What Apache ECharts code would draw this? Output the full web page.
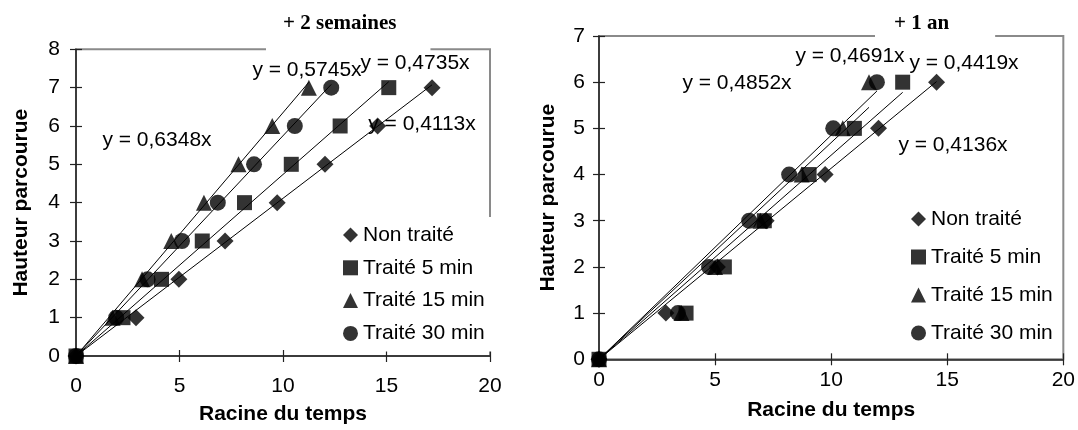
<!DOCTYPE html>
<html><head><meta charset="utf-8">
<script src="https://cdn.jsdelivr.net/npm/echarts@6/dist/echarts.min.js"></script>
<style>html,body{margin:0;padding:0;background:#fff}#c{width:1078px;height:430px}</style>
</head><body><div id="c"></div>
<script>
// ---- data ----
const seriesNames = ['Non traité', 'Traité 5 min', 'Traité 15 min', 'Traité 30 min'];
const panelTitles = ['+ 2 semaines', '+ 1 an'];
const xAxisName = 'Racine du temps';
const yAxisName = 'Hauteur parcourue';
const xTicks = [0, 5, 10, 15, 20];
const yTicks2sem = [0, 1, 2, 3, 4, 5, 6, 7, 8];
const yTicks1an = [0, 1, 2, 3, 4, 5, 6, 7];

// + 2 semaines : hauteur (y) vs racine du temps (x)
const heights2sem = [0, 1, 2, 3, 4, 5, 6, 7];
const x2semNonTraite = [0, 2.9, 4.97, 7.2, 9.72, 12.03, 14.57, 17.2];
const x2sem5min = [0, 2.27, 4.13, 6.1, 8.14, 10.4, 12.76, 15.11];
const x2sem15min = [0, 1.77, 3.19, 4.6, 6.18, 7.85, 9.48, 11.25];
const x2sem30min = [0, 1.94, 3.46, 5.12, 6.85, 8.6, 10.57, 12.33];
const slopes2sem = [0.4113, 0.4735, 0.6348, 0.5745];

// + 1 an
const heights1an = [0, 1, 2, 3, 4, 5, 6];
const x1anNonTraite = [0, 2.88, 5.1, 7.2, 9.74, 12.04, 14.54];
const x1an5min = [0, 3.75, 5.4, 7.12, 9.05, 11.0, 13.08];
const x1an15min = [0, 3.55, 5.0, 6.95, 8.73, 10.5, 11.63];
const x1an30min = [0, 3.4, 4.74, 6.47, 8.19, 10.09, 11.97];
const slopes1an = [0.4136, 0.4419, 0.4691, 0.4852];

// ---- styling / layout ----
const FONT = '"Liberation Sans", Arial, sans-serif';
const SERIF = '"Liberation Serif", "Times New Roman", serif';
const symbols = ['diamond', 'rect', 'triangle', 'circle'];
const symbolSizes = [17, 15, 16, 16];
const eqPos2sem = [[422, 124], [415, 63], [157, 140], [307, 70]];
const eqPos1an = [[953, 145], [964, 63], [850, 56], [737, 83]];

const xs2sem = [x2semNonTraite, x2sem5min, x2sem15min, x2sem30min];
const xs1an = [x1anNonTraite, x1an5min, x1an15min, x1an30min];

function pairs(xs, ys) { return xs.map((x, i) => [x, ys[i]]); }
function trend(xs, k) { const m = Math.max(...xs); return [[0, 0], [m, k * m]]; }
function eqText(k) { return 'y = ' + k.toFixed(4).replace('.', ',') + 'x'; }

const series = [];
[[xs2sem, heights2sem, slopes2sem, 0], [xs1an, heights1an, slopes1an, 1]].forEach(([xs, ys, ks, g]) => {
  xs.forEach((xv, i) => {
    series.push({
      type: 'line', xAxisIndex: g, yAxisIndex: g, data: trend(xv, ks[i]),
      symbol: 'none', silent: true, z: 2,
      lineStyle: { color: '#000', width: 1 }
    });
  });
  xs.forEach((xv, i) => {
    series.push({
      name: seriesNames[i], type: 'scatter', xAxisIndex: g, yAxisIndex: g,
      data: pairs(xv, ys), symbol: symbols[i], symbolSize: symbolSizes[i],
      itemStyle: { color: '#000' }, z: i === 1 ? 4 : 3
    });
  });
});

function xAx(grid, inside, labelMargin, nameGap) {
  return {
    type: 'value', gridIndex: grid, position: 'bottom', min: 0, max: 20, interval: 5,
    name: inside ? '' : xAxisName, nameLocation: 'middle', nameGap: nameGap,
    nameTextStyle: { fontFamily: FONT, fontSize: 21, fontWeight: 'bold', color: '#000' },
    axisLine: { show: !inside, onZero: false, lineStyle: { color: '#222', width: 1.5 } },
    axisTick: { show: true, inside: inside, length: 6, lineStyle: { color: '#222', width: 1.2 } },
    axisLabel: { show: !inside, margin: labelMargin, fontFamily: FONT, fontSize: 21, color: '#000' },
    splitLine: { show: false }
  };
}
function yAx(grid, inside, max, labelMargin, nameGap) {
  return {
    type: 'value', gridIndex: grid, position: 'left', min: 0, max: max, interval: 1,
    name: inside ? '' : yAxisName, nameLocation: 'middle', nameGap: nameGap, nameRotate: 90,
    nameTextStyle: { fontFamily: FONT, fontSize: 21, fontWeight: 'bold', color: '#000' },
    axisLine: { show: !inside, onZero: false, lineStyle: { color: '#222', width: 1.5 } },
    axisTick: { show: true, inside: inside, length: 6, lineStyle: { color: '#222', width: 1.2 } },
    axisLabel: { show: !inside, margin: labelMargin, fontFamily: FONT, fontSize: 21, color: '#000' },
    splitLine: { show: false }
  };
}

const legendData = seriesNames.map((n, i) => ({ name: n, icon: symbols[i] }));
const graphic = [];
slopes2sem.forEach((k, i) => graphic.push({ type: 'text', x: eqPos2sem[i][0], y: eqPos2sem[i][1], z: 10,
  style: { text: eqText(k), font: '21px ' + FONT, fill: '#000', align: 'center', verticalAlign: 'middle' } }));
slopes1an.forEach((k, i) => graphic.push({ type: 'text', x: eqPos1an[i][0], y: eqPos1an[i][1], z: 10,
  style: { text: eqText(k), font: '21px ' + FONT, fill: '#000', align: 'center', verticalAlign: 'middle' } }));

const option = {
  animation: false,
  backgroundColor: '#fff',
  title: [
    { text: panelTitles[0], left: 266, top: 0, padding: [11, 34, 16, 17], backgroundColor: '#fff',
      textStyle: { fontFamily: SERIF, fontWeight: 'bold', fontSize: 21, lineHeight: 25, color: '#000' } },
    { text: panelTitles[1], left: 875, top: 0, padding: [11, 46, 5, 19], backgroundColor: '#fff',
      textStyle: { fontFamily: SERIF, fontWeight: 'bold', fontSize: 21, lineHeight: 25, color: '#000' } }
  ],
  grid: [
    { left: 76, top: 49.3, width: 414, height: 312.4, show: true, borderColor: '#8a8a8a', borderWidth: 2, backgroundColor: 'transparent' },
    { left: 599, top: 36, width: 468, height: 323.3, show: true, borderColor: '#8a8a8a', borderWidth: 2, backgroundColor: 'transparent' }
  ],
  xAxis: [xAx(0, false, 20, 48), xAx(1, false, 10, 40), xAx(0, true, 0, 0), xAx(1, true, 0, 0)],
  yAxis: [yAx(0, false, 8, 16, 44), yAx(1, false, 7, 14, 40), yAx(0, true, 8, 0, 0), yAx(1, true, 7, 0, 0)],
  legend: [
    { data: legendData, orient: 'vertical', left: 338, top: 217, padding: [6, 14, 6, 5],
      backgroundColor: '#fff', itemWidth: 15, itemHeight: 15, itemGap: 8.8, selectedMode: false,
      textStyle: { fontFamily: FONT, fontSize: 21, color: '#000', lineHeight: 24 } },
    { data: legendData, orient: 'vertical', left: 911, top: 207, padding: 0,
      itemWidth: 15, itemHeight: 15, itemGap: 14, selectedMode: false,
      textStyle: { fontFamily: FONT, fontSize: 21, color: '#000', lineHeight: 24 } }
  ],
  graphic: graphic,
  series: series
};

const chart = echarts.init(document.getElementById('c'));
chart.setOption(option);
</script>
</body></html>
